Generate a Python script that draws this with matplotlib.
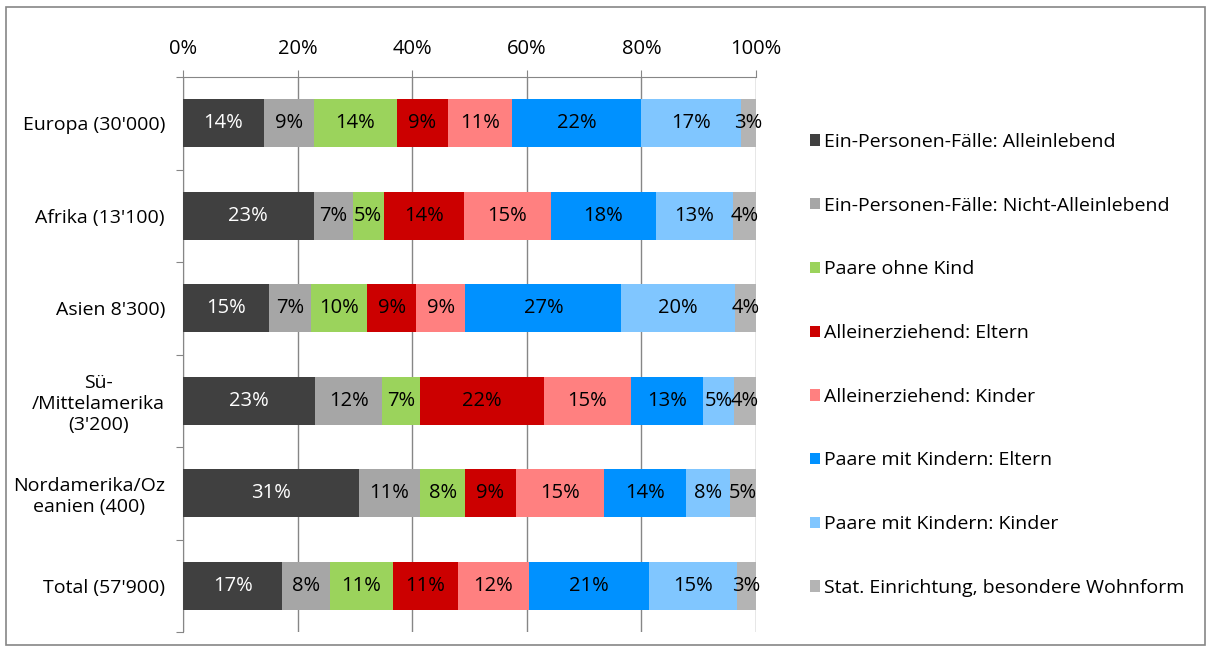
import matplotlib.pyplot as plt
import numpy as np
from matplotlib.patches import Rectangle

plt.rcParams['font.family'] = ['Open Sans', 'DejaVu Sans']

# Regionen (oben -> unten)
regionen = ["Europa (30'000)", "Afrika (13'100)", "Asien 8'300)",
            "Sü-\n/Mittelamerika\n(3'200)", "Nordamerika/Oz\neanien (400)",
            "Total (57'900)"]

kategorien = ["Ein-Personen-Fälle: Alleinlebend",
              "Ein-Personen-Fälle: Nicht-Alleinlebend",
              "Paare ohne Kind",
              "Alleinerziehend: Eltern",
              "Alleinerziehend: Kinder",
              "Paare mit Kindern: Eltern",
              "Paare mit Kindern: Kinder",
              "Stat. Einrichtung, besondere Wohnform"]

# Anteile in % je Region, Reihenfolge wie kategorien
europa = [14.1, 8.8, 14.4, 9.0, 11.2, 22.4, 17.4, 2.7]
afrika = [22.8, 6.8, 5.4, 14.0, 15.2, 18.3, 13.4, 4.1]
asien = [15.0, 7.3, 9.8, 8.6, 8.6, 27.2, 19.8, 3.7]
sued_mittel = [23.1, 11.6, 6.7, 21.6, 15.2, 12.6, 5.4, 3.8]
nord_ozeanien = [30.7, 10.7, 7.8, 8.9, 15.3, 14.3, 7.7, 4.6]
total = [17.3, 8.4, 10.9, 11.4, 12.3, 21.0, 15.4, 3.3]

xticklabels = ["0%", "20%", "40%", "60%", "80%", "100%"]

farben = ["#404040", "#A6A6A6", "#9BD35C", "#CC0000",
          "#FF8080", "#0091FF", "#80C6FF", "#B4B4B4"]
textfarben = ["white", "black", "black", "black",
              "black", "black", "black", "black"]

daten = np.array([europa, afrika, asien, sued_mittel, nord_ozeanien, total]) / 100.0

fig = plt.figure(figsize=(12.11, 6.49), dpi=100)
ax = fig.add_axes([183/1211, 1 - 632/649, (756 - 183)/1211, (632 - 77)/649])

y = np.arange(len(regionen))
links = np.zeros(len(regionen))
handles = []
for k in range(len(kategorien)):
    b = ax.barh(y, daten[:, k], left=links, height=0.52, color=farben[k],
                label=kategorien[k], zorder=3)
    handles.append(b)
    for i in range(len(regionen)):
        ax.text(links[i] + daten[i, k]/2, y[i], "{:.0f}%".format(daten[i, k]*100),
                ha="center", va="center", fontsize=14.5, color=textfarben[k], zorder=4)
    links += daten[:, k]

ax.set_xlim(0, 1)
ax.set_ylim(len(regionen) - 0.5, -0.5)
ax.xaxis.tick_top()
ax.set_xticks(np.linspace(0, 1, 6))
ax.set_xticklabels(xticklabels, fontsize=14.5)
ax.tick_params(axis="x", length=5, color="#868686", pad=8)
ax.grid(axis="x", color="#868686", lw=1, zorder=0)

ax.set_yticks(np.arange(-0.5, len(regionen), 1.0))
ax.set_yticklabels([])
ax.set_yticks(y, minor=True)
ax.set_yticklabels(regionen, minor=True, fontsize=14, ha="right", multialignment="center")
ax.tick_params(axis="y", which="major", length=5, color="#868686")
ax.tick_params(axis="y", which="minor", length=0, pad=13)

for s in ["right", "bottom"]:
    ax.spines[s].set_visible(False)
ax.spines["top"].set_color("#868686")
ax.spines["left"].set_color("#868686")

leg = fig.legend(handles=handles, loc="upper left", bbox_to_anchor=(810/1211, 1 - 133/649),
                 frameon=False, fontsize=14, handlelength=0.52, handleheight=0.52,
                 handletextpad=0.2, labelspacing=2.35, borderaxespad=0, borderpad=0)

fig.patches.append(Rectangle((6/1211, 4/649), 1199/1211, 638/649, transform=fig.transFigure,
                             fill=False, edgecolor="#868686", lw=1.2))

fig.savefig("out.png", dpi=100)
